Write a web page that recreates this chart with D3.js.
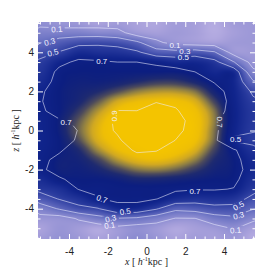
<!DOCTYPE html>
<html>
<head>
<meta charset="utf-8">
<script src="https://cdn.jsdelivr.net/npm/d3@7"></script>
<style>
  body { margin: 0; background: #fff; }
  .tick text { font-family: "Liberation Sans", Arial, sans-serif; font-size: 10px; fill: #222; }
</style>
</head>
<body>
<div id="chart"></div>
<script>
// grid columns (x) and rows (z), in h^-1 kpc
const xCenters = [-5.5, -4.5, -3.5, -2.5, -1.5, -0.5, 0.5, 1.5, 2.5, 3.5, 4.5, 5.5];
const zCenters = [5.5, 5.0, 4.5, 4.0, 3.5, 3.0, 2.5, 2.0, 1.5, 1.0, 0.5, 0.0, -0.5,
                  -1.0, -1.5, -2.0, -2.5, -3.0, -3.5, -4.0, -4.5, -5.0, -5.5];

const levels = [0.1, 0.3, 0.5, 0.7, 0.9];

// contoured quantity, one row per z
const contourGrid = [
  [0.05, 0.00, 0.00, 0.00, 0.00, 0.00, 0.00, 0.00, 0.00, 0.00, 0.00, 0.00],
  [0.17, 0.20, 0.20, 0.20, 0.17, 0.00, 0.00, 0.00, 0.00, 0.00, 0.00, 0.00],
  [0.29, 0.38, 0.445, 0.46, 0.43, 0.34, 0.14, 0.03, 0.00, 0.00, 0.00, 0.00],
  [0.44, 0.51, 0.62, 0.60, 0.59, 0.53, 0.39, 0.37, 0.40, 0.32, 0.02, 0.00],
  [0.53, 0.66, 0.73, 0.72, 0.70, 0.70, 0.68, 0.63, 0.65, 0.56, 0.31, 0.03],
  [0.58, 0.74, 0.75, 0.74, 0.74, 0.74, 0.74, 0.75, 0.70, 0.64, 0.63, 0.14],
  [0.63, 0.75, 0.77, 0.76, 0.78, 0.78, 0.79, 0.79, 0.74, 0.695, 0.65, 0.32],
  [0.68, 0.76, 0.79, 0.78, 0.82, 0.82, 0.84, 0.84, 0.78, 0.73, 0.67, 0.47],
  [0.69, 0.76, 0.79, 0.81, 0.86, 0.86, 0.895, 0.88, 0.82, 0.75, 0.67, 0.53],
  [0.68, 0.745, 0.76, 0.84, 0.902, 0.901, 0.93, 0.91, 0.85, 0.76, 0.65, 0.55],
  [0.65, 0.69, 0.71, 0.86, 0.915, 0.93, 0.96, 0.93, 0.87, 0.75, 0.58, 0.54],
  [0.62, 0.64, 0.705, 0.87, 0.908, 0.96, 0.975, 0.92, 0.87, 0.74, 0.55, 0.52],
  [0.62, 0.63, 0.72, 0.86, 0.89, 0.94, 0.95, 0.899, 0.86, 0.74, 0.47, 0.42],
  [0.65, 0.69, 0.74, 0.84, 0.87, 0.91, 0.905, 0.864, 0.84, 0.75, 0.72, 0.58],
  [0.68, 0.72, 0.75, 0.81, 0.84, 0.873, 0.864, 0.829, 0.81, 0.76, 0.74, 0.63],
  [0.685, 0.73, 0.74, 0.78, 0.81, 0.835, 0.824, 0.793, 0.78, 0.75, 0.745, 0.65],
  [0.62, 0.69, 0.725, 0.75, 0.78, 0.796, 0.784, 0.757, 0.75, 0.73, 0.73, 0.62],
  [0.55, 0.60, 0.705, 0.725, 0.75, 0.758, 0.744, 0.721, 0.71, 0.71, 0.695, 0.56],
  [0.40, 0.51, 0.585, 0.69, 0.735, 0.735, 0.704, 0.627, 0.586, 0.60, 0.578, 0.447],
  [0.186, 0.318, 0.45, 0.49, 0.64, 0.64, 0.52, 0.35, 0.38, 0.44, 0.44, 0.313],
  [0.04, 0.01, 0.12, 0.225, 0.29, 0.27, 0.19, 0.09, 0.095, 0.21, 0.257, 0.136],
  [0.03, 0.01, 0.00, 0.00, 0.05, 0.00, 0.00, 0.00, 0.00, 0.03, 0.114, 0.02],
  [0.03, 0.01, 0.00, 0.00, 0.00, 0.00, 0.00, 0.00, 0.00, 0.00, 0.02, 0.02]
];

// colour-coded quantity (0 = faint, 1 = peak)
const colourGrid = [
  [0.22, 0.18, 0.16, 0.10, 0.14, 0.10, 0.08, 0.14, 0.12, 0.06, 0.14, 0.16],
  [0.30, 0.30, 0.30, 0.26, 0.25, 0.16, 0.12, 0.15, 0.12, 0.06, 0.12, 0.16],
  [0.40, 0.47, 0.53, 0.54, 0.52, 0.44, 0.27, 0.18, 0.15, 0.12, 0.15, 0.16],
  [0.52, 0.58, 0.68, 0.66, 0.65, 0.60, 0.48, 0.46, 0.49, 0.42, 0.17, 0.15],
  [0.60, 0.71, 0.76, 0.76, 0.75, 0.75, 0.73, 0.69, 0.70, 0.63, 0.41, 0.18],
  [0.64, 0.76, 0.78, 0.78, 0.78, 0.78, 0.78, 0.78, 0.76, 0.70, 0.69, 0.27],
  [0.68, 0.77, 0.79, 0.79, 0.80, 0.82, 0.84, 0.84, 0.81, 0.76, 0.71, 0.42],
  [0.72, 0.78, 0.80, 0.82, 0.86, 0.90, 0.92, 0.92, 0.89, 0.80, 0.72, 0.55],
  [0.73, 0.78, 0.81, 0.87, 0.94, 0.97, 0.98, 0.98, 0.95, 0.85, 0.73, 0.60],
  [0.73, 0.78, 0.84, 0.92, 0.98, 1.00, 1.00, 1.00, 0.98, 0.89, 0.74, 0.62],
  [0.72, 0.79, 0.87, 0.95, 1.00, 1.00, 1.00, 1.00, 0.99, 0.90, 0.74, 0.62],
  [0.72, 0.79, 0.88, 0.96, 1.00, 1.00, 1.00, 1.00, 0.99, 0.89, 0.73, 0.61],
  [0.72, 0.78, 0.86, 0.95, 0.99, 1.00, 1.00, 1.00, 0.98, 0.88, 0.72, 0.60],
  [0.73, 0.78, 0.82, 0.91, 0.97, 0.99, 1.00, 0.99, 0.95, 0.85, 0.76, 0.65],
  [0.74, 0.79, 0.80, 0.85, 0.92, 0.96, 0.97, 0.95, 0.90, 0.82, 0.78, 0.69],
  [0.74, 0.79, 0.79, 0.81, 0.85, 0.89, 0.90, 0.88, 0.84, 0.80, 0.78, 0.70],
  [0.68, 0.76, 0.78, 0.78, 0.79, 0.81, 0.81, 0.80, 0.79, 0.78, 0.77, 0.67],
  [0.62, 0.66, 0.75, 0.76, 0.77, 0.77, 0.77, 0.76, 0.75, 0.75, 0.74, 0.62],
  [0.49, 0.58, 0.65, 0.74, 0.76, 0.76, 0.75, 0.68, 0.65, 0.66, 0.64, 0.53],
  [0.30, 0.42, 0.53, 0.57, 0.69, 0.69, 0.59, 0.45, 0.47, 0.52, 0.52, 0.42],
  [0.18, 0.20, 0.25, 0.34, 0.40, 0.38, 0.31, 0.22, 0.22, 0.33, 0.37, 0.27],
  [0.10, 0.18, 0.14, 0.08, 0.16, 0.22, 0.16, 0.08, 0.12, 0.16, 0.22, 0.12],
  [0.14, 0.20, 0.16, 0.10, 0.16, 0.24, 0.18, 0.10, 0.14, 0.12, 0.16, 0.06]
];

const colourStops = [0.00, 0.10, 0.20, 0.35, 0.50, 0.62, 0.72, 0.78, 0.82, 0.86, 0.90, 0.94, 0.975, 1.00];
const colourRamp = ['#c2b8e8', '#aaa2dc', '#9492d4', '#7278c6', '#4a56b2', '#26389c',
                    '#10248c', '#0c1e80', '#1e2a70', '#4c4a5c', '#8e7e44', '#d0a822',
                    '#eebe06', '#f4c400'];

const majorTicks = [-4, -2, 0, 2, 4];

// contour labels placed on the lines (data coordinates)
const contourLabels = [
  { text: '0.1', x: -4.63, z: 5.18, angle: -5 },
  { text: '0.3', x: -5.0, z: 4.54, angle: -15 },
  { text: '0.5', x: -4.83, z: 3.98, angle: -15 },
  { text: '0.7', x: -2.31, z: 3.55, angle: 0 },
  { text: '0.1', x: 1.47, z: 4.37, angle: 0 },
  { text: '0.3', x: 1.98, z: 4.08, angle: 0 },
  { text: '0.5', x: 1.9, z: 3.74, angle: 0 },
  { text: '0.7', x: -4.15, z: 0.45, angle: 0 },
  { text: '0.9', x: -1.65, z: 0.75, angle: -90 },
  { text: '0.7', x: 3.79, z: 0.43, angle: 90 },
  { text: '0.5', x: 4.6, z: -0.45, angle: 0 },
  { text: '0.7', x: -2.3, z: -3.5, angle: 20 },
  { text: '0.5', x: -1.1, z: -4.15, angle: -10 },
  { text: '0.3', x: -1.85, z: -4.5, angle: -15 },
  { text: '0.1', x: -1.9, z: -4.85, angle: -10 },
  { text: '0.7', x: 2.5, z: -3.1, angle: 0 },
  { text: '0.5', x: 4.75, z: -3.85, angle: -30 },
  { text: '0.3', x: 4.75, z: -4.35, angle: -15 },
  { text: '0.1', x: 4.6, z: -5.1, angle: -5 }
];

const W = 273, H = 273;
const mLeft = 38, mRight = 255, mTop = 22, mBottom = 239;

const x = d3.scaleLinear().domain([-5.6, 5.6]).range([mLeft, mRight]);
const y = d3.scaleLinear().domain([-5.55, 5.55]).range([mBottom, mTop]);

const nx = xCenters.length, nz = zCenters.length;
const dx = xCenters[1] - xCenters[0];
const dz = zCenters[0] - zCenters[1];

const colour = d3.scaleLinear().domain(colourStops).range(colourRamp)
  .interpolate(d3.interpolateRgb).clamp(true);

const svg = d3.select('#chart').append('svg')
  .attr('width', W).attr('height', H);

const defs = svg.append('defs');
defs.append('clipPath').attr('id', 'plotclip')
  .append('rect')
  .attr('x', mLeft).attr('y', mTop)
  .attr('width', mRight - mLeft).attr('height', mBottom - mTop)
  .attr('rx', 3);

// smooth (bicubic) resampling of the colour grid for display
function cubic(p0, p1, p2, p3, t) {
  return p1 + 0.5 * t * (p2 - p0 + t * (2 * p0 - 5 * p1 + 4 * p2 - p3 + t * (3 * (p1 - p2) + p3 - p0)));
}
function sample(grid, fi, fj) {
  const i = Math.floor(fi), j = Math.floor(fj);
  const ti = fi - i, tj = fj - j;
  const g = (a, b) => grid[Math.max(0, Math.min(nz - 1, b))][Math.max(0, Math.min(nx - 1, a))];
  const rows = [-1, 0, 1, 2].map(k =>
    cubic(g(i - 1, j + k), g(i, j + k), g(i + 1, j + k), g(i + 2, j + k), ti));
  return cubic(rows[0], rows[1], rows[2], rows[3], tj);
}

const pw = mRight - mLeft, ph = mBottom - mTop;
const cv = document.createElement('canvas');
cv.width = pw; cv.height = ph;
const ctx = cv.getContext('2d');
const img = ctx.createImageData(pw, ph);
for (let py = 0; py < ph; py++) {
  const fj = (zCenters[0] - y.invert(mTop + py + 0.5)) / dz;
  for (let px = 0; px < pw; px++) {
    const fi = (x.invert(mLeft + px + 0.5) - xCenters[0]) / dx;
    const c = d3.rgb(colour(sample(colourGrid, fi, fj)));
    const k = 4 * (py * pw + px);
    img.data[k] = c.r; img.data[k + 1] = c.g; img.data[k + 2] = c.b; img.data[k + 3] = 255;
  }
}
ctx.putImageData(img, 0, 0);

const plot = svg.append('g').attr('clip-path', 'url(#plotclip)');

plot.append('image')
  .attr('href', cv.toDataURL())
  .attr('x', mLeft).attr('y', mTop)
  .attr('width', pw).attr('height', ph)
  .attr('preserveAspectRatio', 'none');

// gaps in the lines under the labels
const mask = defs.append('mask').attr('id', 'labelgap')
  .attr('maskUnits', 'userSpaceOnUse')
  .attr('x', 0).attr('y', 0).attr('width', W).attr('height', H);
mask.append('rect').attr('width', W).attr('height', H).attr('fill', '#fff');
mask.selectAll('rect.gap')
  .data(contourLabels)
  .join('rect')
  .attr('class', 'gap')
  .attr('x', -8).attr('y', -4).attr('width', 16).attr('height', 8)
  .attr('fill', '#000')
  .attr('transform', d => `translate(${x(d.x)},${y(d.z)}) rotate(${d.angle})`);

const x0 = xCenters[0] - dx / 2;
const z0 = zCenters[0] + dz / 2;
const contours = d3.contours().size([nx, nz]).thresholds(levels)(contourGrid.flat());

const toData = d3.geoTransform({
  point: function (px, py) {
    this.stream.point(x(x0 + px * dx), y(z0 - py * dz));
  }
});
const path = d3.geoPath(toData);

plot.append('g')
  .attr('mask', 'url(#labelgap)')
  .selectAll('path')
  .data(contours)
  .join('path')
  .attr('d', path)
  .attr('fill', 'none')
  .attr('stroke', '#eef')
  .attr('stroke-opacity', 0.8)
  .attr('stroke-width', 0.7)
  .attr('stroke-linejoin', 'round');

plot.append('g')
  .selectAll('text')
  .data(contourLabels)
  .join('text')
  .attr('transform', d => `translate(${x(d.x)},${y(d.z)}) rotate(${d.angle})`)
  .attr('text-anchor', 'middle')
  .attr('dy', '0.35em')
  .style('font-family', '"Liberation Sans", Arial, sans-serif')
  .style('font-size', '8px')
  .style('fill', '#f4f4ff')
  .text(d => d.text);

// axes: ticks point inwards, white
const minorTicks = d3.range(-5.5, 5.6, 0.5).filter(v => !majorTicks.includes(v));
const fmt = d => String(d);

function styleAxis(g) {
  g.select('.domain').remove();
  g.selectAll('.tick line').attr('stroke', '#fff').attr('stroke-width', 1);
}

svg.append('g').attr('transform', `translate(0,${mBottom})`)
  .call(d3.axisBottom(x).tickValues(majorTicks).tickSize(-5).tickPadding(9).tickFormat(fmt))
  .call(styleAxis);
svg.append('g').attr('transform', `translate(0,${mBottom})`)
  .call(d3.axisBottom(x).tickValues(minorTicks).tickSize(-2.5).tickFormat(''))
  .call(styleAxis);
svg.append('g').attr('transform', `translate(0,${mTop})`)
  .call(d3.axisTop(x).tickValues(majorTicks).tickSize(-5).tickFormat(''))
  .call(styleAxis);
svg.append('g').attr('transform', `translate(0,${mTop})`)
  .call(d3.axisTop(x).tickValues(minorTicks).tickSize(-2.5).tickFormat(''))
  .call(styleAxis);

svg.append('g').attr('transform', `translate(${mLeft},0)`)
  .call(d3.axisLeft(y).tickValues(majorTicks).tickSize(-5).tickPadding(4).tickFormat(fmt))
  .call(styleAxis);
svg.append('g').attr('transform', `translate(${mLeft},0)`)
  .call(d3.axisLeft(y).tickValues(minorTicks).tickSize(-2.5).tickFormat(''))
  .call(styleAxis);
svg.append('g').attr('transform', `translate(${mRight},0)`)
  .call(d3.axisRight(y).tickValues(majorTicks).tickSize(-5).tickFormat(''))
  .call(styleAxis);
svg.append('g').attr('transform', `translate(${mRight},0)`)
  .call(d3.axisRight(y).tickValues(minorTicks).tickSize(-2.5).tickFormat(''))
  .call(styleAxis);

// axis titles
function title(sel, axisLetter) {
  sel.style('font-family', '"Liberation Serif", "Times New Roman", serif')
    .style('font-size', '10px')
    .style('fill', '#222');
  sel.append('tspan').style('font-style', 'italic').text(axisLetter);
  sel.append('tspan').text(' [ ');
  sel.append('tspan').style('font-style', 'italic').text('h');
  sel.append('tspan').attr('dy', -4).style('font-size', '6px').text('-1');
  sel.append('tspan').attr('dy', 4).text('kpc ]');
}

svg.append('text')
  .attr('x', (mLeft + mRight) / 2).attr('y', 265)
  .attr('text-anchor', 'middle')
  .call(title, 'x');

svg.append('text')
  .attr('transform', `translate(19,${(mTop + mBottom) / 2}) rotate(-90)`)
  .attr('text-anchor', 'middle')
  .call(title, 'z');
</script>
</body>
</html>
